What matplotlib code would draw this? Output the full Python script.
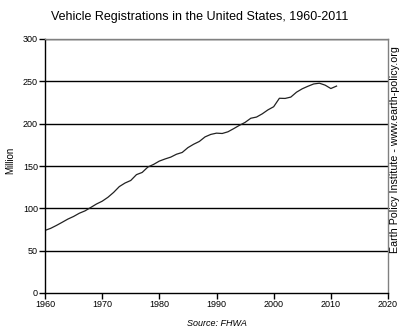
import matplotlib
matplotlib.use("Agg")
import matplotlib.pyplot as plt

years = list(range(1960, 2012))
vehicles = [73.9, 76.4, 79.8, 83.5, 87.3, 90.4, 94.2, 97.0, 101.0, 105.1,
            108.4, 113.0, 118.8, 125.7, 129.9, 132.9, 139.8, 142.4, 148.8, 151.9,
            155.8, 158.3, 160.5, 163.9, 166.0, 171.7, 175.7, 179.0, 184.4, 187.3,
            188.8, 188.4, 190.4, 194.1, 198.0, 201.5, 206.4, 207.8, 211.6, 216.3,
            220.0, 230.0, 229.8, 231.4, 237.2, 241.2, 244.2, 246.9, 247.8, 245.5,
            241.5, 244.4]
xticks = [1960, 1970, 1980, 1990, 2000, 2010, 2020]
yticks = [0, 50, 100, 150, 200, 250, 300]

plt.rcParams['font.family'] = ['Liberation Sans', 'DejaVu Sans']

fig = plt.figure(figsize=(4.03, 3.34), dpi=100)
ax = fig.add_axes([45/403, 1-293/334, (388-45)/403, (293-39)/334])

for y in yticks[1:]:
    ax.axhline(y, color='black', lw=1.0, zorder=1)
ax.plot(years, vehicles, color='#222222', lw=0.9, zorder=2)

ax.set_xlim(1960, 2020)
ax.set_ylim(0, 300)
ax.set_xticks(xticks)
ax.set_yticks(yticks)
ax.tick_params(axis='both', direction='out', length=4, width=1, labelsize=6.5, pad=1, colors='black')
for s in ['top', 'right']:
    ax.spines[s].set_color('#808080')
    ax.spines[s].set_linewidth(1)
for s in ['left', 'bottom']:
    ax.spines[s].set_color('black')
    ax.spines[s].set_linewidth(1)

fig.text(200/403, 1-17/334, 'Vehicle Registrations in the United States, 1960-2011',
         ha='center', va='center', fontsize=9)
fig.text(10/403, 1-160/334, 'Million', rotation=90, ha='center', va='center', fontsize=7)
fig.text(395/403, 1-150/334, 'Earth Policy Institute - www.earth-policy.org', rotation=90,
         ha='center', va='center', fontsize=7.7)
fig.text(217/403, 1-324/334, 'Source: FHWA', style='italic', ha='center', va='center', fontsize=6.5)

fig.savefig('out.png', dpi=100)
